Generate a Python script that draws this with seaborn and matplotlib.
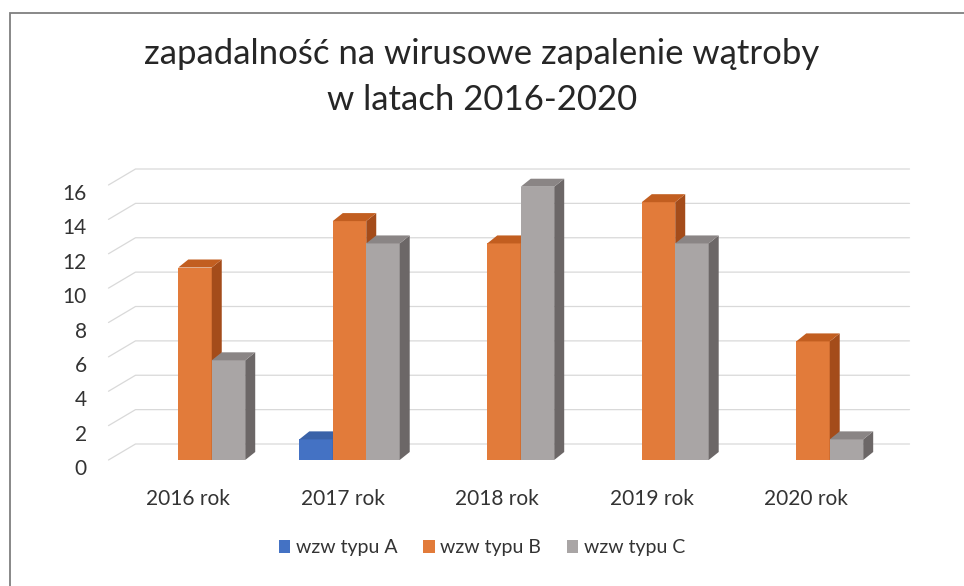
"""
Zapadalnosc na wzw w latach 2016-2020 - clustered bars with a faux 3D depth.
"""

import matplotlib
matplotlib.use('Agg')
import matplotlib.pyplot as plt
from matplotlib.patches import Polygon, Rectangle
from matplotlib.transforms import ScaledTranslation
import pandas as pd
import seaborn as sns

# Data
categories = ['2016 rok', '2017 rok', '2018 rok', '2019 rok', '2020 rok']
seriesNames = ['wzw typu A', 'wzw typu B', 'wzw typu C']
typeA = [0, 1.2, 0, 0, 0]
typeB = [11.2, 13.9, 12.6, 15.0, 6.9]
typeC = [5.8, 12.6, 15.9, 12.6, 1.2]
yTicks = [0, 2, 4, 6, 8, 10, 12, 14, 16]

titleText = 'zapadalność na wirusowe zapalenie wątroby\nw latach 2016-2020'

# Colours (front, side, top faces)
frontColors = ['#4472C4', '#E27B3A', '#A9A5A5']
sideColors = ['#2F528F', '#A44C1A', '#6C6767']
topColors = ['#3A62A8', '#C25E20', '#8A8585']
textColor = '#333333'
gridColor = '#D9D9D9'


def buildFrame():
    rows = []
    for name, values in zip(seriesNames, [typeA, typeB, typeC]):
        for cat, val in zip(categories, values):
            rows.append({'rok': cat, 'wartosc': val, 'seria': name})
    return pd.DataFrame(rows)


def main():
    sns.set_style('white')
    plt.rcParams['font.family'] = ['Lato', 'DejaVu Sans']

    fig = plt.figure(figsize=(9.64, 5.86), dpi=100)
    figW, figH = 964, 586

    # front plane of the plot area in pixels
    left, right, bottom, top = 108.5, 882.5, 460, 185
    ax = fig.add_axes([left / figW, 1 - bottom / figH,
                       (right - left) / figW, (bottom - top) / figH])

    df = buildFrame()
    sns.barplot(data=df, x='rok', y='wartosc', hue='seria', hue_order=seriesNames,
                palette=frontColors, saturation=1, width=0.65, edgecolor='none',
                linewidth=0, legend=False, ax=ax)

    ax.set_xlim(-0.56, 4.45)
    ax.set_ylim(0, 16)

    # pixel -> data conversions for the depth effect
    pxPerX = (right - left) / (4.45 + 0.56)
    pxPerY = (bottom - top) / 16.0
    depthX, depthY = 10 / pxPerX, 8 / pxPerY
    gridX, gridY = 27 / pxPerX, 16 / pxPerY

    for k, container in enumerate(ax.containers):
        for bar in container:
            h = bar.get_height()
            bar.set_zorder(3 + k)
            if h <= 0:
                continue
            x0 = bar.get_x()
            x1 = x0 + bar.get_width()
            side = Polygon([(x1, 0), (x1 + depthX, depthY), (x1 + depthX, h + depthY), (x1, h)],
                           closed=True, facecolor=sideColors[k], edgecolor='none',
                           zorder=3 + k, clip_on=False)
            topFace = Polygon([(x0, h), (x1, h), (x1 + depthX, h + depthY), (x0 + depthX, h + depthY)],
                              closed=True, facecolor=topColors[k], edgecolor='none',
                              zorder=3 + k, clip_on=False)
            ax.add_patch(side)
            ax.add_patch(topFace)

    # back wall gridlines with the short diagonal from the front edge
    xMin, xMax = ax.get_xlim()
    for v in yTicks:
        ax.plot([xMin, xMin + gridX, xMax + gridX], [v, v + gridY, v + gridY],
                color=gridColor, linewidth=0.9, zorder=0.5, clip_on=False)

    for spine in ax.spines.values():
        spine.set_visible(False)
    ax.grid(False)
    ax.set_xlabel('')
    ax.set_ylabel('')
    ax.set_yticks(yTicks)
    ax.tick_params(axis='y', length=0, pad=15.5, labelsize=15, labelcolor=textColor)
    ax.tick_params(axis='x', length=0, pad=21, labelsize=15, labelcolor=textColor)

    # small nudges so labels sit where the 3D projection put them
    for lab in ax.get_yticklabels():
        lab.set_transform(lab.get_transform() + ScaledTranslation(0, -7 / 100, fig.dpi_scale_trans))
    for lab in ax.get_xticklabels():
        lab.set_transform(lab.get_transform() + ScaledTranslation(-7 / 100, 0, fig.dpi_scale_trans))

    # title
    fig.text(0.5, 1 - 77 / figH, titleText, ha='center', va='center',
             fontsize=25, color='#262626', linespacing=1.5)

    # legend
    handles = [Rectangle((0, 0), 1, 1, facecolor=c, edgecolor='none') for c in frontColors]
    fig.legend(handles, seriesNames, loc='center', bbox_to_anchor=(0.5, 1 - 548 / figH),
               ncol=3, frameon=False, fontsize=14, handlelength=0.6, handleheight=0.6,
               handletextpad=0.3, columnspacing=1.3, labelcolor=textColor)

    # chart frame (left and top edges visible in the scan)
    frame = Rectangle((10 / figW, -0.05), 1.2, 1.05 - 13 / figH, transform=fig.transFigure,
                      fill=False, edgecolor='#7F7F7F', linewidth=1.3)
    fig.add_artist(frame)

    fig.savefig('out.png', dpi=100)


if __name__ == '__main__':
    main()
